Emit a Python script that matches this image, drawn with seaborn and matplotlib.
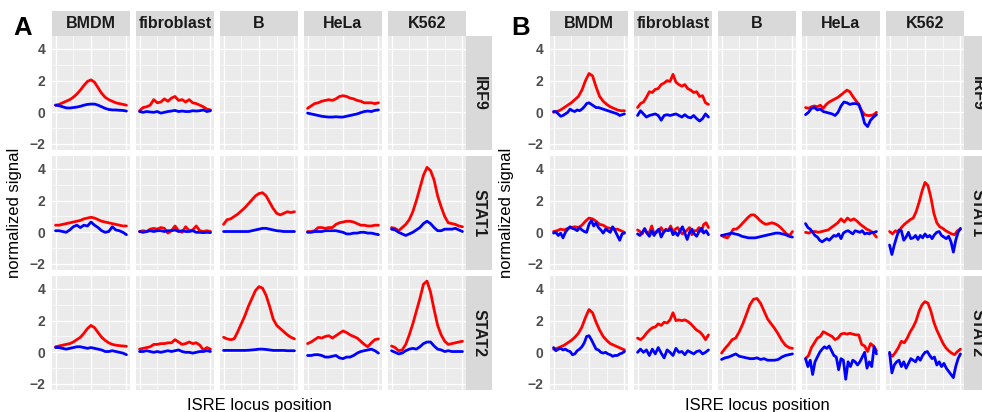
import numpy as np
import pandas as pd
import matplotlib
matplotlib.use("Agg")
import matplotlib.pyplot as plt
from matplotlib.patches import Rectangle
import seaborn as sns

# ---------------- data ----------------
CELLS = ["BMDM", "fibroblast", "B", "HeLa", "K562"]
FACTORS = ["IRF9", "STAT1", "STAT2"]
PANELS = ["A", "B"]
Y_TICKS = [-2, 0, 2, 4]
X_TICKS = [-1, 0, 1]

# Panel A
a_irf9_bmdm_red = [0.45, 0.5, 0.6, 0.7, 0.8, 0.95, 1.15, 1.4, 1.7, 1.95, 2.05, 1.9, 1.55, 1.2, 0.95, 0.8, 0.7, 0.6, 0.55, 0.5, 0.45]
a_irf9_bmdm_blue = [0.45, 0.42, 0.35, 0.28, 0.27, 0.3, 0.33, 0.38, 0.45, 0.5, 0.52, 0.52, 0.45, 0.35, 0.25, 0.18, 0.15, 0.15, 0.13, 0.12, 0.08]
a_irf9_fib_red = [0.1, 0.3, 0.35, 0.45, 0.8, 0.6, 0.65, 0.85, 0.7, 0.9, 1.0, 0.75, 0.8, 0.65, 0.8, 0.6, 0.55, 0.45, 0.35, 0.2, 0.15]
a_irf9_fib_blue = [0.05, 0.0, 0.05, 0.02, 0.0, 0.05, -0.05, 0.0, 0.05, 0.08, 0.12, 0.05, 0.08, 0.05, 0.05, 0.1, 0.08, 0.1, 0.15, 0.05, 0.1]
a_irf9_hela_red = [0.25, 0.4, 0.55, 0.6, 0.7, 0.75, 0.8, 0.75, 0.85, 1.0, 1.05, 1.0, 0.9, 0.85, 0.75, 0.7, 0.6, 0.6, 0.6, 0.55, 0.6]
a_irf9_hela_blue = [-0.05, -0.1, -0.15, -0.2, -0.25, -0.28, -0.3, -0.3, -0.28, -0.3, -0.3, -0.25, -0.2, -0.15, -0.1, -0.02, 0.05, 0.08, 0.05, 0.12, 0.15]

a_stat1_bmdm_red = [0.45, 0.45, 0.5, 0.55, 0.6, 0.65, 0.7, 0.75, 0.85, 0.9, 0.95, 0.9, 0.8, 0.7, 0.65, 0.6, 0.55, 0.5, 0.45, 0.4, 0.4]
a_stat1_bmdm_blue = [0.1, 0.1, 0.05, 0.0, 0.15, 0.35, 0.45, 0.3, 0.45, 0.4, 0.65, 0.45, 0.3, 0.1, 0.0, 0.05, 0.35, 0.15, 0.1, 0.0, -0.15]
a_stat1_fib_red = [0.05, 0.1, 0.05, 0.2, 0.25, 0.2, 0.3, 0.25, -0.05, 0.1, 0.4, 0.1, 0.0, 0.35, 0.1, 0.15, 0.4, 0.1, 0.05, 0.1, 0.05]
a_stat1_fib_blue = [0.05, 0.0, 0.05, 0.1, 0.05, 0.1, 0.1, 0.05, 0.1, 0.1, 0.15, 0.05, 0.1, 0.05, 0.05, 0.1, 0.0, 0.0, -0.02, 0.0, -0.02]
a_stat1_b_red = [0.5, 0.8, 0.85, 1.0, 1.15, 1.35, 1.55, 1.8, 2.05, 2.3, 2.45, 2.5, 2.3, 1.9, 1.5, 1.2, 1.1, 1.2, 1.3, 1.25, 1.3]
a_stat1_b_blue = [0.05, 0.05, 0.05, 0.05, 0.05, 0.05, 0.05, 0.05, 0.1, 0.15, 0.2, 0.25, 0.25, 0.2, 0.15, 0.1, 0.08, 0.05, 0.05, 0.05, 0.05]
a_stat1_hela_red = [0.05, 0.05, 0.1, 0.3, 0.3, 0.25, 0.3, 0.3, 0.5, 0.6, 0.65, 0.7, 0.7, 0.65, 0.55, 0.45, 0.45, 0.4, 0.4, 0.45, 0.45]
a_stat1_hela_blue = [0.0, 0.0, 0.05, 0.05, 0.05, 0.1, 0.1, 0.1, 0.1, 0.05, 0.0, -0.1, -0.1, -0.05, -0.05, 0.0, 0.0, -0.05, -0.05, -0.1, -0.15]
a_stat1_k562_red = [0.3, 0.25, 0.1, 0.3, 0.5, 0.8, 1.3, 2.0, 2.8, 3.6, 4.1, 3.9, 3.3, 2.3, 1.6, 1.0, 0.6, 0.55, 0.5, 0.4, 0.35]
a_stat1_k562_blue = [0.2, 0.15, 0.0, -0.1, -0.2, -0.1, 0.0, 0.15, 0.3, 0.55, 0.7, 0.55, 0.3, 0.1, 0.1, 0.2, 0.2, 0.2, 0.25, 0.15, 0.05]

a_stat2_bmdm_red = [0.35, 0.4, 0.45, 0.5, 0.55, 0.65, 0.8, 0.95, 1.2, 1.5, 1.7, 1.55, 1.25, 0.95, 0.75, 0.6, 0.5, 0.45, 0.42, 0.4, 0.38]
a_stat2_bmdm_blue = [0.3, 0.3, 0.25, 0.2, 0.25, 0.3, 0.35, 0.35, 0.3, 0.25, 0.3, 0.25, 0.2, 0.15, 0.05, 0.05, 0.1, 0.05, 0.0, -0.05, -0.15]
a_stat2_fib_red = [0.2, 0.25, 0.3, 0.35, 0.5, 0.5, 0.55, 0.55, 0.6, 0.6, 0.8, 0.65, 0.5, 0.55, 0.65, 0.55, 0.6, 0.45, 0.15, 0.3, 0.2]
a_stat2_fib_blue = [0.05, 0.05, 0.1, 0.05, 0.0, 0.05, 0.0, 0.05, 0.1, 0.05, 0.1, 0.15, 0.05, 0.0, 0.0, -0.05, 0.0, 0.05, 0.05, 0.1, 0.05]
a_stat2_b_red = [0.95, 0.85, 0.8, 0.85, 1.3, 1.8, 2.3, 2.9, 3.4, 3.9, 4.15, 4.05, 3.6, 2.9, 2.1, 1.7, 1.5, 1.3, 1.1, 0.95, 0.85]
a_stat2_b_blue = [0.12, 0.12, 0.12, 0.12, 0.12, 0.12, 0.12, 0.13, 0.15, 0.17, 0.2, 0.2, 0.18, 0.15, 0.12, 0.12, 0.12, 0.12, 0.1, 0.1, 0.1]
a_stat2_hela_red = [0.55, 0.65, 0.8, 0.95, 0.9, 1.0, 1.05, 0.9, 1.05, 1.2, 1.35, 1.25, 1.1, 1.0, 0.9, 0.7, 0.5, 0.35, 0.6, 0.8, 0.85]
a_stat2_hela_blue = [-0.2, -0.2, -0.15, -0.15, -0.2, -0.3, -0.3, -0.25, -0.2, -0.35, -0.4, -0.3, -0.3, -0.2, -0.05, 0.05, 0.1, 0.15, 0.2, 0.1, -0.05]
a_stat2_k562_red = [0.4, 0.3, 0.1, 0.15, 0.5, 1.1, 1.8, 2.6, 3.4, 4.3, 4.5, 3.8, 2.7, 1.7, 1.1, 0.7, 0.5, 0.55, 0.6, 0.65, 0.7]
a_stat2_k562_blue = [0.1, 0.0, -0.1, -0.05, 0.1, 0.2, 0.25, 0.2, 0.35, 0.55, 0.65, 0.65, 0.4, 0.2, 0.15, 0.05, 0.1, 0.05, 0.05, 0.05, 0.05]

# Panel B
b_irf9_bmdm_red = [0.0, 0.05, 0.15, 0.3, 0.45, 0.6, 0.8, 1.0, 1.4, 2.0, 2.45, 2.3, 1.6, 1.0, 0.7, 0.5, 0.35, 0.25, 0.15, 0.1, 0.1]
b_irf9_bmdm_blue = [0.05, 0.05, -0.1, -0.25, -0.2, -0.1, 0.0, 0.2, 0.1, 0.05, 0.15, 0.1, 0.2, 0.35, 0.55, 0.6, 0.5, 0.4, 0.3, 0.3, 0.25, 0.2, 0.15, 0.1, 0.05, 0.0, -0.05, -0.1, -0.2, -0.15, -0.1]
b_irf9_fib_red = [0.3, 0.55, 0.65, 0.95, 1.3, 1.25, 1.45, 1.5, 1.75, 1.85, 2.0, 1.95, 2.4, 1.9, 1.75, 1.65, 1.75, 1.5, 1.4, 1.25, 1.3, 1.0, 1.05, 0.6, 0.5]
b_irf9_fib_blue = [-0.2, 0.1, -0.1, -0.3, -0.2, -0.15, -0.1, -0.2, -0.5, -0.2, -0.15, -0.2, -0.15, -0.1, -0.2, -0.3, -0.15, -0.3, -0.35, -0.2, -0.4, -0.55, -0.4, -0.1, -0.3]
b_irf9_hela_red = [0.3, 0.25, 0.35, 0.4, 0.35, 0.45, 0.25, 0.5, 0.65, 0.75, 0.85, 0.95, 1.1, 1.25, 1.4, 1.3, 1.0, 0.75, 0.5, 0.1, -0.15, -0.2, -0.2, -0.15, 0.0]
b_irf9_hela_blue = [-0.15, 0.0, 0.25, 0.3, 0.15, 0.2, 0.05, 0.0, -0.05, -0.1, -0.2, 0.0, 0.4, 0.65, 0.6, 0.5, 0.55, 0.55, 0.5, 0.0, -0.7, -0.9, -0.5, -0.3, -0.15]

b_stat1_bmdm_red = [0.05, 0.1, 0.2, 0.15, 0.25, 0.3, 0.35, 0.3, 0.45, 0.7, 0.9, 0.85, 0.7, 0.5, 0.45, 0.3, 0.25, 0.2, 0.2, 0.1, 0.0]
b_stat1_bmdm_blue = [-0.05, 0.0, -0.2, -0.05, -0.35, 0.0, 0.2, 0.35, 0.25, 0.2, 0.1, 0.3, 0.15, 0.05, 0.0, 0.5, 0.75, 0.4, 0.6, 0.3, 0.15, -0.05, 0.2, 0.1, 0.0, 0.35, 0.1, -0.2, -0.5, -0.1, -0.05]
b_stat1_fib_red = [0.15, 0.05, -0.1, 0.25, -0.05, 0.0, 0.4, -0.1, 0.0, 0.1, 0.3, 0.0, 0.2, 0.1, 0.4, 0.0, 0.2, 0.3, 0.05, -0.1, 0.0, 0.15, 0.3, -0.15, 0.1, 0.1, 0.3, 0.05, 0.5, 0.6, 0.3]
b_stat1_fib_blue = [-0.1, -0.2, 0.0, 0.2, -0.05, -0.25, 0.1, -0.2, 0.05, 0.2, -0.3, 0.0, 0.15, 0.1, 0.25, -0.15, 0.0, -0.2, 0.1, 0.35, -0.05, -0.45, 0.0, 0.2, -0.1, -0.25, 0.05, 0.25, -0.05, 0.1, -0.15]
b_stat1_b_red = [-0.2, -0.3, -0.35, -0.1, 0.2, 0.2, 0.35, 0.55, 0.75, 0.95, 1.1, 1.1, 0.95, 0.75, 0.6, 0.5, 0.55, 0.6, 0.55, 0.45, 0.3, 0.1, -0.1, -0.2, 0.05]
b_stat1_b_blue = [-0.2, -0.15, -0.1, -0.05, -0.1, -0.15, -0.25, -0.3, -0.35, -0.35, -0.35, -0.3, -0.25, -0.2, -0.15, -0.1, -0.05, -0.05, -0.1, -0.15, -0.25, -0.3]
b_stat1_hela_red = [0.0, -0.05, 0.05, 0.05, 0.0, 0.05, 0.1, 0.15, 0.3, 0.45, 0.6, 0.85, 0.65, 0.9, 0.75, 0.85, 0.7, 0.5, 0.35, 0.2, 0.1, -0.05, -0.3]
b_stat1_hela_blue = [0.55, 0.3, 0.2, 0.0, -0.2, -0.3, -0.5, -0.6, -0.5, -0.4, -0.5, -0.35, -0.2, -0.25, -0.1, -0.4, -0.05, 0.05, 0.1, 0.0, -0.1, 0.1, 0.05, 0.0, 0.1, -0.1, -0.05, -0.1, 0.0, 0.0, 0.05]
b_stat1_k562_red = [0.05, -0.1, 0.1, 0.0, 0.3, 0.5, 0.65, 0.8, 0.9, 1.3, 1.9, 2.6, 3.15, 2.95, 2.2, 1.2, 0.6, 0.35, 0.25, 0.1, 0.0, -0.1, -0.15, 0.1, 0.2]
b_stat1_k562_blue = [-0.8, -1.4, -0.8, -0.3, 0.15, 0.1, -0.5, -0.3, 0.0, -0.4, -0.35, -0.2, -0.45, -0.2, -0.35, -0.1, -0.3, -0.2, -0.4, -0.15, 0.0, 0.05, -0.2, -0.3, -0.4, -0.25, -0.6, -1.25, -0.5, 0.0, 0.25]

b_stat2_bmdm_red = [0.2, 0.25, 0.35, 0.45, 0.6, 0.75, 0.95, 1.2, 1.6, 2.2, 2.7, 2.5, 1.9, 1.4, 1.0, 0.75, 0.55, 0.45, 0.35, 0.25, 0.15]
b_stat2_bmdm_blue = [0.3, 0.1, 0.2, 0.25, 0.15, 0.2, 0.1, 0.05, -0.15, -0.1, 0.1, 0.2, 0.35, 0.6, 1.0, 1.05, 0.8, 0.5, 0.2, 0.15, 0.0, -0.05, 0.0, -0.1, -0.15, -0.25, -0.2, -0.2, -0.1, -0.05, 0.05]
b_stat2_fib_red = [0.9, 0.8, 0.95, 1.2, 1.4, 1.55, 1.6, 1.8, 1.7, 1.9, 1.85, 2.05, 2.5, 2.0, 2.05, 2.0, 2.05, 1.95, 1.8, 1.6, 1.4, 1.3, 1.1, 0.8, 1.1]
b_stat2_fib_blue = [0.0, 0.2, 0.0, 0.15, -0.2, 0.2, -0.1, 0.3, -0.05, -0.35, 0.15, 0.0, -0.2, 0.25, 0.0, 0.05, -0.15, 0.1, 0.0, -0.1, 0.05, 0.1, -0.1, 0.0, 0.15]
b_stat2_b_red = [-0.05, 0.25, 0.5, 0.8, 0.9, 1.3, 1.8, 2.4, 3.0, 3.35, 3.4, 3.1, 2.6, 2.1, 1.8, 1.5, 1.15, 0.75, 0.45, 0.3, 0.25]
b_stat2_b_blue = [-0.45, -0.35, -0.3, -0.2, -0.1, -0.25, -0.3, -0.35, -0.4, -0.4, -0.35, -0.45, -0.4, -0.5, -0.5, -0.5, -0.45, -0.3, -0.2, -0.15, -0.1]
b_stat2_hela_red = [-0.4, -0.2, 0.3, 0.6, 0.9, 1.0, 1.3, 1.2, 1.1, 1.0, 0.8, 0.9, 1.15, 1.2, 1.15, 1.2, 1.15, 1.1, 1.1, 0.5, 0.4, 0.05, 0.55, 0.4, 0.1]
b_stat2_hela_blue = [-0.4, -0.9, -0.5, -1.4, -0.6, -0.3, 0.0, 0.2, 0.35, 0.25, 0.4, 0.1, -0.2, -0.3, -1.1, -0.4, -0.5, -1.7, -0.6, -0.9, -0.5, -0.6, -0.8, -0.6, -0.3, 0.0, -1.0, -0.6, -0.9, 0.35, -0.1]
b_stat2_k562_red = [-0.1, -0.25, 0.0, 0.3, 0.7, 0.6, 0.9, 1.3, 1.6, 2.0, 2.6, 3.0, 3.2, 3.1, 2.6, 1.9, 1.4, 1.0, 0.6, 0.3, 0.1, -0.05, -0.15, 0.05, 0.2]
b_stat2_k562_blue = [0.0, -1.3, -0.8, -0.6, -0.5, -0.9, -0.6, -1.0, -0.7, -0.4, -0.5, -0.6, -0.3, -0.5, -0.2, 0.0, 0.05, -0.2, -0.4, -0.3, -0.8, -0.6, -0.9, -0.7, -1.0, -1.2, -1.4, -1.6, -0.9, -0.4, -0.1]

CURVES = {
    ("A", "IRF9", "BMDM"): (a_irf9_bmdm_red, a_irf9_bmdm_blue),
    ("A", "IRF9", "fibroblast"): (a_irf9_fib_red, a_irf9_fib_blue),
    ("A", "IRF9", "HeLa"): (a_irf9_hela_red, a_irf9_hela_blue),
    ("A", "STAT1", "BMDM"): (a_stat1_bmdm_red, a_stat1_bmdm_blue),
    ("A", "STAT1", "fibroblast"): (a_stat1_fib_red, a_stat1_fib_blue),
    ("A", "STAT1", "B"): (a_stat1_b_red, a_stat1_b_blue),
    ("A", "STAT1", "HeLa"): (a_stat1_hela_red, a_stat1_hela_blue),
    ("A", "STAT1", "K562"): (a_stat1_k562_red, a_stat1_k562_blue),
    ("A", "STAT2", "BMDM"): (a_stat2_bmdm_red, a_stat2_bmdm_blue),
    ("A", "STAT2", "fibroblast"): (a_stat2_fib_red, a_stat2_fib_blue),
    ("A", "STAT2", "B"): (a_stat2_b_red, a_stat2_b_blue),
    ("A", "STAT2", "HeLa"): (a_stat2_hela_red, a_stat2_hela_blue),
    ("A", "STAT2", "K562"): (a_stat2_k562_red, a_stat2_k562_blue),
    ("B", "IRF9", "BMDM"): (b_irf9_bmdm_red, b_irf9_bmdm_blue),
    ("B", "IRF9", "fibroblast"): (b_irf9_fib_red, b_irf9_fib_blue),
    ("B", "IRF9", "HeLa"): (b_irf9_hela_red, b_irf9_hela_blue),
    ("B", "STAT1", "BMDM"): (b_stat1_bmdm_red, b_stat1_bmdm_blue),
    ("B", "STAT1", "fibroblast"): (b_stat1_fib_red, b_stat1_fib_blue),
    ("B", "STAT1", "B"): (b_stat1_b_red, b_stat1_b_blue),
    ("B", "STAT1", "HeLa"): (b_stat1_hela_red, b_stat1_hela_blue),
    ("B", "STAT1", "K562"): (b_stat1_k562_red, b_stat1_k562_blue),
    ("B", "STAT2", "BMDM"): (b_stat2_bmdm_red, b_stat2_bmdm_blue),
    ("B", "STAT2", "fibroblast"): (b_stat2_fib_red, b_stat2_fib_blue),
    ("B", "STAT2", "B"): (b_stat2_b_red, b_stat2_b_blue),
    ("B", "STAT2", "HeLa"): (b_stat2_hela_red, b_stat2_hela_blue),
    ("B", "STAT2", "K562"): (b_stat2_k562_red, b_stat2_k562_blue),
}

rows = []
for (panel, factor, cell), (red, blue) in CURVES.items():
    for series, vals in (("red", red), ("blue", blue)):
        xs = np.linspace(-1, 1, len(vals))
        for i, (xv, yv) in enumerate(zip(xs, vals)):
            rows.append(dict(panel=panel, factor=factor, cell=cell,
                             series=series, x=xv, y=yv, order=i))
df = pd.DataFrame(rows)

# ---------------- style ----------------
sns.set_theme(style="darkgrid")
plt.rcParams["font.family"] = ["Liberation Sans", "DejaVu Sans"]
plt.rcParams["axes.facecolor"] = "#EBEBEB"

W, H = 982, 412
fig = plt.figure(figsize=(W / 100, H / 100), dpi=100)
fig.patch.set_facecolor("white")

def rect(x0, y0, w, h):
    return [x0 / W, 1 - (y0 + h) / H, w / W, h / H]

def ftext(x, y, s, **kw):
    fig.text(x / W, 1 - y / H, s, **kw)

PANEL_LEFT = {"A": 52, "B": 550}
COL_W, COL_STEP = 78, 84
ROW_H, ROW_STEP, TOP = 114, 120, 36
STRIP_H = 25
STRIP_W = 26
PALETTE = {"red": "#FF0000", "blue": "#0000FF"}

for panel in PANELS:
    x0 = PANEL_LEFT[panel]
    for ci, cell in enumerate(CELLS):
        cx = x0 + ci * COL_STEP
        # column strip
        fig.add_artist(Rectangle((cx / W, 1 - TOP / H), COL_W / W, STRIP_H / H,
                                 transform=fig.transFigure, facecolor="#D9D9D9",
                                 edgecolor="none"))
        ftext(cx + COL_W / 2, TOP - STRIP_H / 2, cell, ha="center", va="center",
              fontsize=11.5, fontweight="bold", color="#1A1A1A")
        for ri, factor in enumerate(FACTORS):
            ry = TOP + ri * ROW_STEP
            ax = fig.add_axes(rect(cx, ry, COL_W, ROW_H))
            ax.set_facecolor("#EBEBEB")
            sub = df[(df.panel == panel) & (df.factor == factor) & (df.cell == cell)]
            if len(sub):
                sns.lineplot(data=sub, x="x", y="y", hue="series", units="series",
                             palette=PALETTE, estimator=None, sort=False,
                             linewidth=2.0, legend=False, ax=ax)
            ax.set_xlim(-1.1, 1.1)
            ax.set_ylim(-2.38, 4.82)
            ax.set_xticks(X_TICKS)
            ax.set_yticks(Y_TICKS)
            ax.set_xticks([-0.5, 0.5], minor=True)
            ax.set_yticks([-1, 1, 3], minor=True)
            ax.grid(which="major", color="white", linewidth=1.0)
            ax.grid(which="minor", color="white", linewidth=0.5)
            ax.set_axisbelow(True)
            for sp in ax.spines.values():
                sp.set_visible(False)
            ax.set_xlabel("")
            ax.set_ylabel("")
            ax.tick_params(which="minor", length=0)
            ax.tick_params(axis="both", which="major", length=2.5, width=0.8,
                           color="#333333", pad=2.2, labelsize=10,
                           labelcolor="#4D4D4D")
            if ci == 0:
                ax.set_yticklabels([("\u2212" + str(abs(t))) if t < 0 else str(t)
                                    for t in Y_TICKS], fontweight="bold")
            else:
                ax.tick_params(axis="y", left=False, labelleft=False)
            if ri == len(FACTORS) - 1:
                ax.set_xticklabels(["", "", ""])
            else:
                ax.tick_params(axis="x", bottom=False, labelbottom=False)
            # row strip
            if ci == len(CELLS) - 1:
                sx = cx + COL_W
                fig.add_artist(Rectangle((sx / W, 1 - (ry + ROW_H) / H),
                                         STRIP_W / W, ROW_H / H,
                                         transform=fig.transFigure,
                                         facecolor="#D9D9D9", edgecolor="none"))
                ftext(sx + STRIP_W / 2, ry + ROW_H / 2, factor, ha="center",
                      va="center", rotation=-90, fontsize=11.5,
                      fontweight="bold", color="#1A1A1A")
    # axis titles
    span_c = x0 + (4 * COL_STEP + COL_W) / 2
    ftext(span_c, 410, "ISRE locus position", ha="center", va="baseline",
          fontsize=12, color="black")
    ylab_x = {"A": 14.5, "B": 506}[panel]
    ftext(ylab_x, TOP + (2 * ROW_STEP + ROW_H) / 2, "normalized signal",
          ha="center", va="center", rotation=90, fontsize=12, color="black")
    lx = {"A": 13, "B": 511}[panel]
    ftext(lx, 35, panel, ha="left", va="baseline", fontsize=18.5,
          fontweight="bold", color="black")

fig.savefig("out.png", dpi=100, facecolor="white")
